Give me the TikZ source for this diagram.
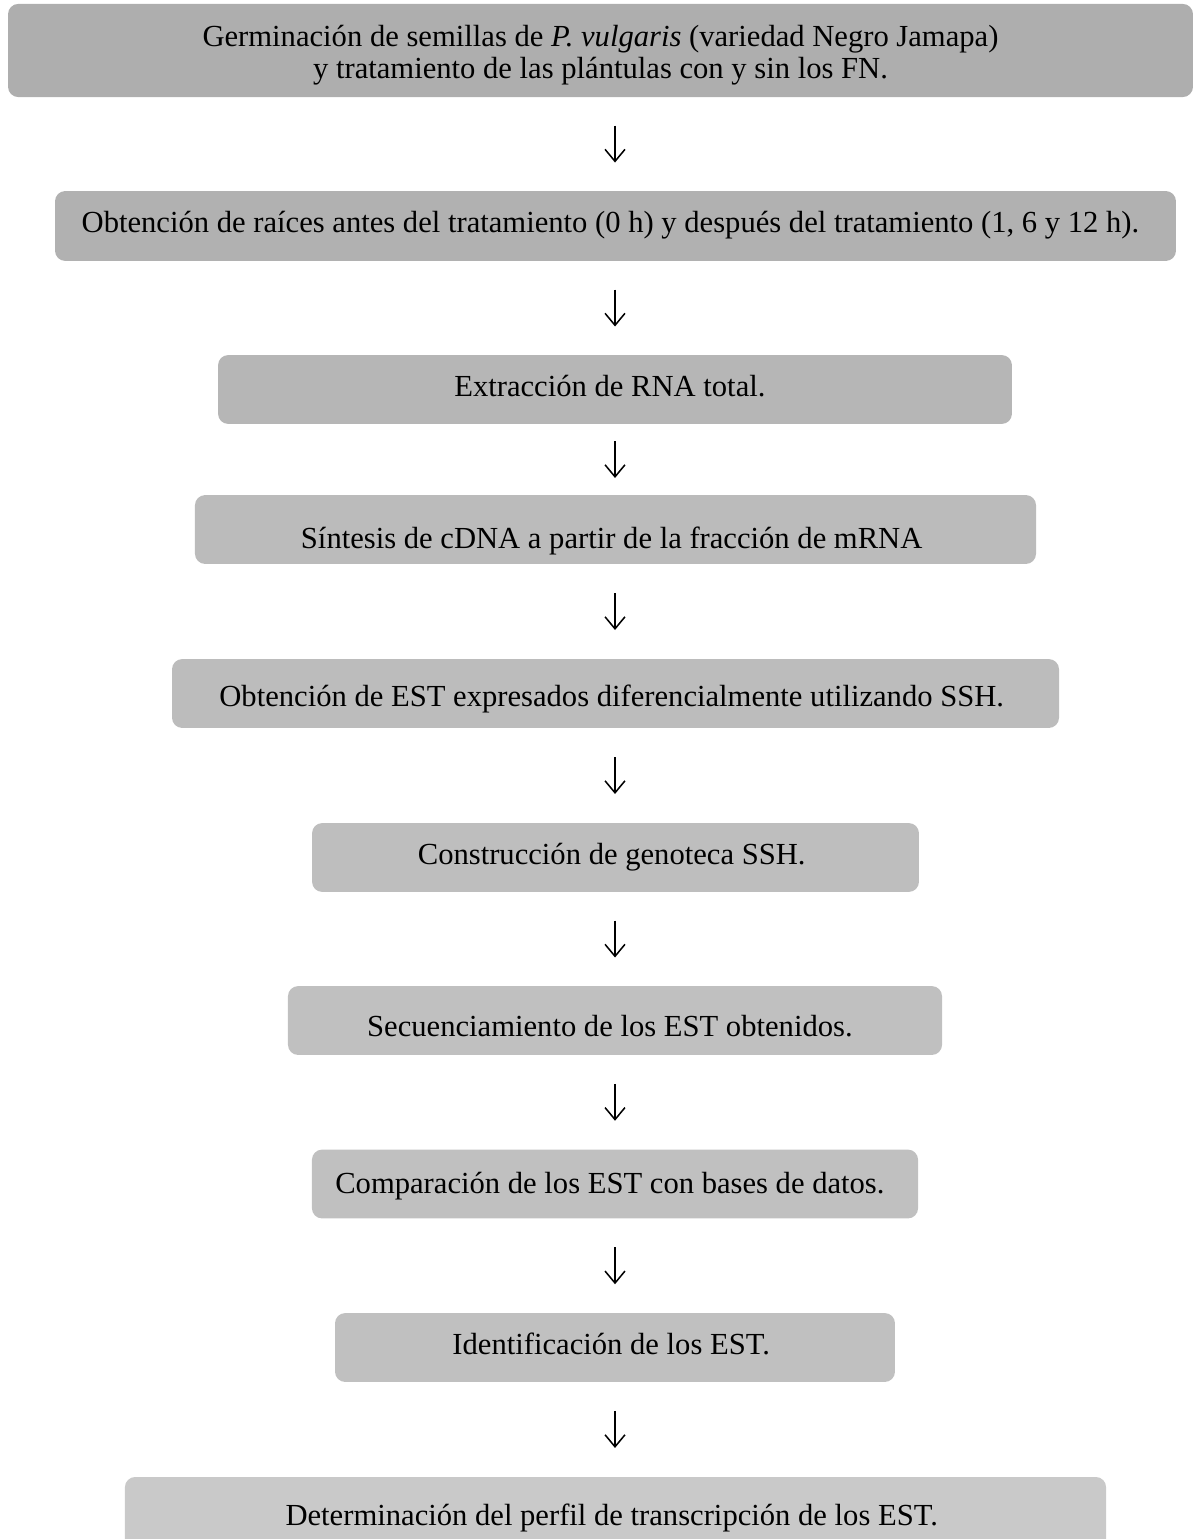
\documentclass[tikz,border=0pt]{standalone}
\usepackage{fontspec}
\setmainfont{Liberation Serif}
\usetikzlibrary{arrows.meta,calc}

\definecolor{gris1}{RGB}{174,174,174}
\definecolor{gris2}{RGB}{177,177,177}
\definecolor{gris3}{RGB}{182,182,182}
\definecolor{gris4}{RGB}{187,187,187}
\definecolor{gris5}{RGB}{188,188,188}
\definecolor{gris6}{RGB}{190,190,190}
\definecolor{gris7}{RGB}{192,192,192}
\definecolor{gris10}{RGB}{201,201,201}

\begin{document}
\begin{tikzpicture}[x=0.392pt,y=-0.392pt,
    paso/.style={fill=#1,rounded corners=4pt,inner xsep=0pt,inner ysep=0pt,
      align=center,font=\fontsize{12}{12.9}\selectfont,
      text height=8pt,text depth=2.6pt,minimum height=27pt},
    paso/.default=gris7,
    flecha/.style={line width=0.6pt,-{Straight Barb[length=4.7pt,width=7.8pt]}}]

    \useasboundingbox (0,0) rectangle (1194,1539);
    \clip (0,0) rectangle (1194,1539);

    \coordinate (eje) at (615,0);

    \node(paso1) [paso=gris1,minimum width=464.5pt,minimum height=36.5pt,text height=24.9pt] at (600.5,50.5) {
      Germinación de semillas de \textit{P. vulgaris} (variedad Negro Jamapa)\\
      y tratamiento de las plántulas con y sin los FN.
    };

    \node(paso2) [paso=gris2,minimum width=439.4pt,minimum height=27.4pt] at (615.5,226) {
      Obtención de raíces antes del tratamiento (0 h) y después del tratamiento (1, 6 y 12 h).
    };

    \node(paso3) [paso=gris3,minimum width=311.2pt] at (615,389.5) {
      Extracción de RNA total.
    };

    \node(paso4) [paso=gris4,minimum width=329.7pt,text height=17.8pt] at (615.5,529.5) {
      Síntesis de cDNA a partir de la fracción de mRNA
    };

    \node(paso5) [paso=gris5,minimum width=347.7pt,text height=13pt] at (615.5,693.5) {
      Obtención de EST expresados diferencialmente utilizando SSH.
    };

    \node(paso6) [paso=gris6,minimum width=237.9pt] at (615.5,857.5) {
      Construcción de genoteca SSH.
    };

    \node(paso7) [paso=gris7,minimum width=256.4pt,text height=15.4pt] at (615,1020.5) {
      Secuenciamiento de los EST obtenidos.
    };

    \node(paso8) [paso=gris7,minimum width=237.6pt,text height=10.4pt] at (615,1184) {
      Comparación de los EST con bases de datos.
    };

    \node(paso9) [paso=gris7,minimum width=219.5pt] at (615,1347.5) {
      Identificación de los EST.
    };

    \node(paso10) [paso=gris10,minimum width=384.6pt,minimum height=29.8pt,text height=11pt] at (615.5,1515) {
      Determinación del perfil de transcripción de los EST.
    };

    \foreach \a/\b in {paso1/paso2,paso2/paso3,paso3/paso4,paso4/paso5,paso5/paso6,
                       paso6/paso7,paso7/paso8,paso8/paso9,paso9/paso10}
      \draw[flecha] ($(\a.south -| eje)!.5!(\b.north -| eje)$) ++(0,-18.5) -- ++(0,37);

  \end{tikzpicture}
\end{document}
